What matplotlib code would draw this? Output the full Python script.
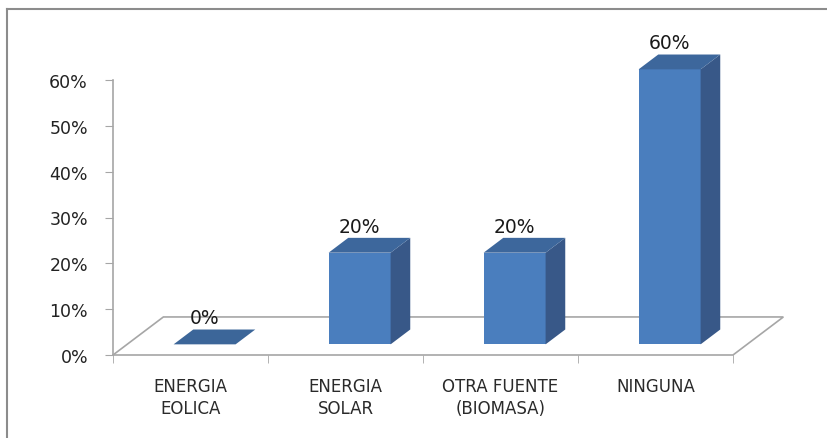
import matplotlib.pyplot as plt
from matplotlib.patches import Polygon
from matplotlib.lines import Line2D

categories = ['ENERGIA\nEOLICA', 'ENERGIA\nSOLAR', 'OTRA FUENTE\n(BIOMASA)', 'NINGUNA']
values = [0, 20, 20, 60]
y_ticks = [0, 10, 20, 30, 40, 50, 60]

FRONT = '#4a7ebe'
SIDE = '#385888'
TOP = '#3d679c'
FLOOR_EDGE = '#a6a6a6'

# depth of the floor in data units (x in categories, y in percent)
DX = 0.325
DY = 8.3
# bar sits between these depth fractions
D0, D1 = 0.28, 0.67
BAR_W = 0.4


def shift(x, y, f):
    return x + DX * f, y + DY * f


fig = plt.figure(figsize=(8.27, 4.39), dpi=100)
ax = fig.add_axes([113 / 827, 83 / 439, 620 / 827, 275 / 439])
ax.set_xlim(0, len(categories))
ax.set_ylim(0, 60)

# floor (only the outline, like the Excel 3D chart)
n = len(categories)
floor = [(0, 0), shift(0, 0, 1), shift(n, 0, 1), (n, 0)]
ax.add_patch(Polygon(floor, closed=False, fill=False, edgecolor=FLOOR_EDGE,
                     lw=1.2, clip_on=False, zorder=1))

for i, v in enumerate(values):
    x0 = i + 0.5 - BAR_W / 2
    x1 = x0 + BAR_W
    fl = shift(x0, 0, D0)
    fr = shift(x1, 0, D0)
    tl = shift(x0, v, D0)
    tr = shift(x1, v, D0)
    btl = shift(x0, v, D1)
    btr = shift(x1, v, D1)
    bbr = shift(x1, 0, D1)
    if v > 0:
        ax.add_patch(Polygon([fl, fr, tr, tl], facecolor=FRONT, edgecolor='none',
                             clip_on=False, zorder=3))
        ax.add_patch(Polygon([fr, bbr, btr, tr], facecolor=SIDE, edgecolor='none',
                             clip_on=False, zorder=3))
        ax.add_patch(Polygon([tl, tr, btr, btl], facecolor=TOP, edgecolor='none',
                             clip_on=False, zorder=3))
    else:
        ax.add_patch(Polygon([tl, tr, btr, btl], facecolor='#3c6699', edgecolor='none',
                             clip_on=False, zorder=3))
    lx, ly = shift(i + 0.5, v, D1)
    ax.text(lx - 0.13, ly + 0.5, f'{v}%', ha='center', va='bottom', fontsize=13.5,
            color='#1a1a1a', clip_on=False, zorder=4)

ax.set_yticks(y_ticks)
ax.set_yticklabels([f'{t}%' for t in y_ticks], fontsize=12.5, color='#222222')
ax.set_xticks([i + 0.5 for i in range(n)])
ax.set_xticklabels(categories, fontsize=12, color='#2a2a2a', linespacing=1.3)
ax.set_xticks(range(n + 1), minor=True)
ax.tick_params(axis='x', which='major', length=0, pad=16)
ax.tick_params(axis='x', which='minor', length=6, color=FLOOR_EDGE, direction='out')
ax.tick_params(axis='y', length=6, color=FLOOR_EDGE, direction='out', pad=12)

for s in ['top', 'right']:
    ax.spines[s].set_visible(False)
ax.spines['left'].set_color(FLOOR_EDGE)
ax.spines['bottom'].set_color(FLOOR_EDGE)
ax.spines['left'].set_linewidth(1.2)
ax.spines['bottom'].set_linewidth(1.2)
ax.set_facecolor('none')

# chart area border (top and left visible in the crop)
fig.add_artist(Line2D([6.5 / 827, 1], [1 - 9.5 / 439, 1 - 9.5 / 439], color='#8c8c8c', lw=1.5))
fig.add_artist(Line2D([6.5 / 827, 6.5 / 827], [0, 1 - 9.5 / 439], color='#8c8c8c', lw=1.5))

fig.savefig('out.png', dpi=100)
